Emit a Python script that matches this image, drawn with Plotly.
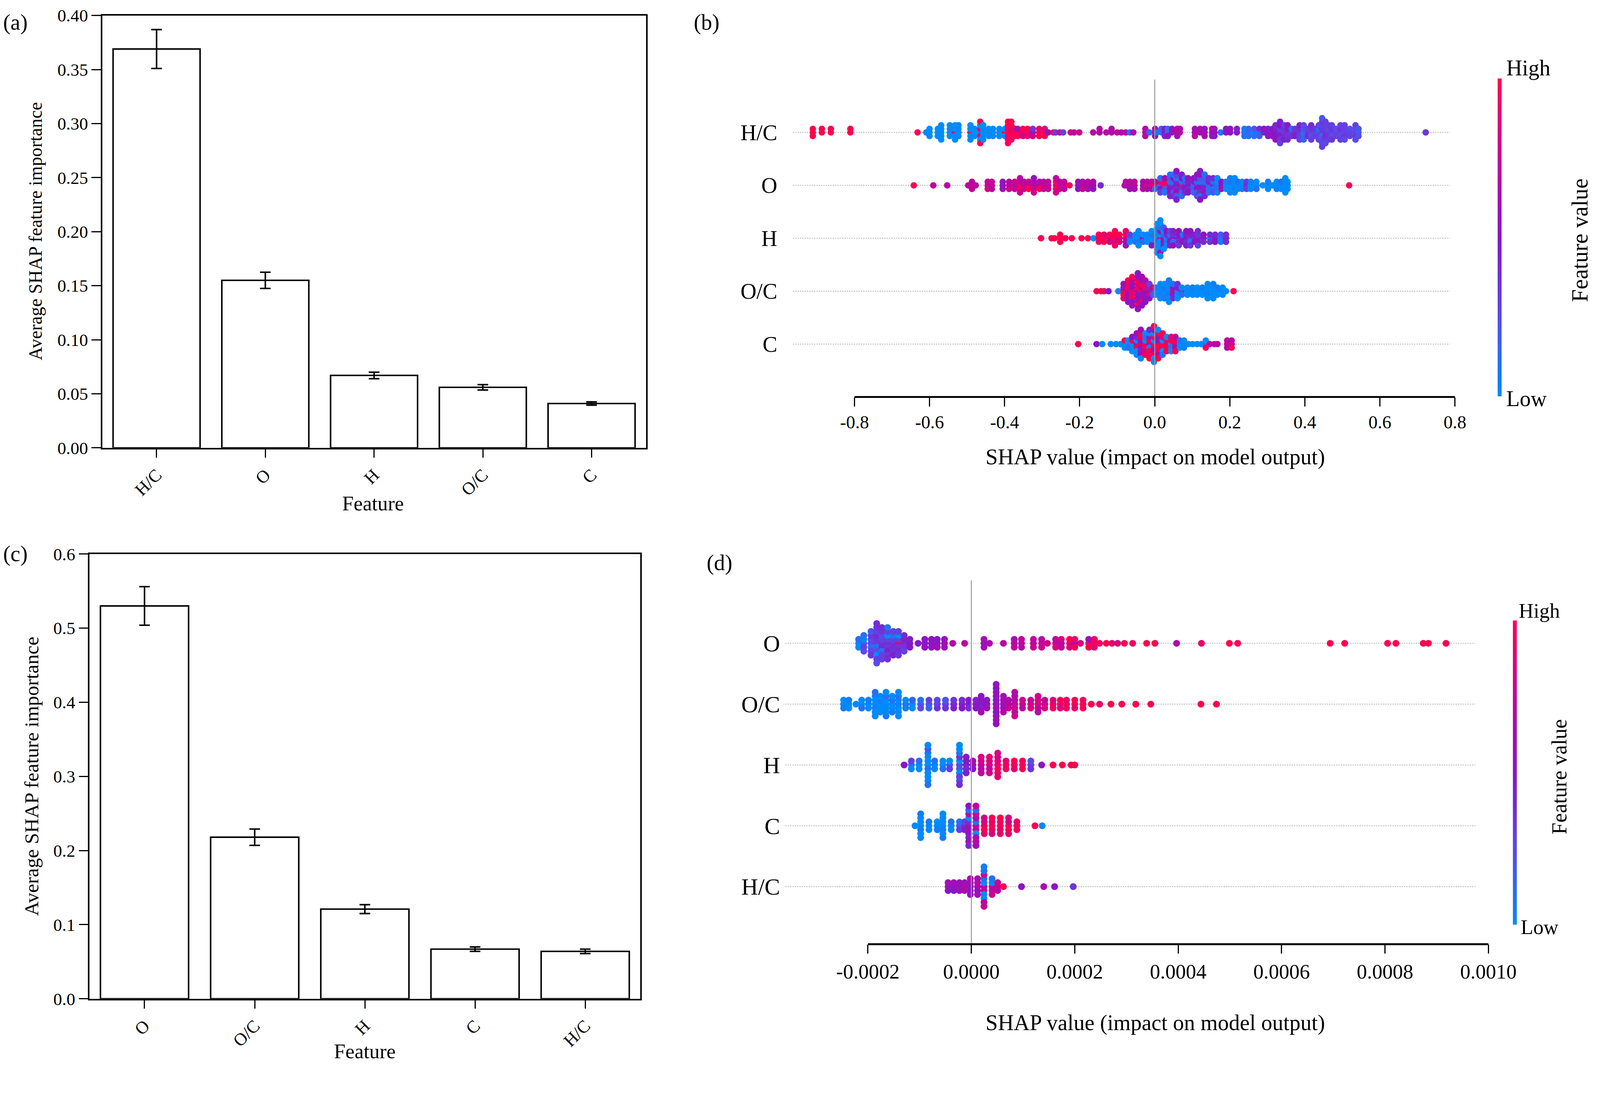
import math
import plotly.graph_objects as go

# reference canvas in pixels. In the photographed page one CSS px comes out as about
# 1.026 px across and 1.018 px down, and the page starts about 24 px below the top,
# so everything is laid out in reference pixels and converted here
# (body margin is removed after plotting).
W, H = 4252, 2817
KX, KY = 1.026, 1.018
K = KX
BAND = 23.7
FW = round(W / KX)
FH = round((H - BAND) / KY)
FONT = "Liberation Serif"


def px(X):
    return (X / KX) / FW


def py(Y):
    return 1 - ((Y - BAND) / KY) / FH


def s(v):
    # size in reference pixels -> css pixels
    return v / K


# ---- panel (a) / (c): mean |SHAP| bars ----
a_feats = ["H/C", "O", "H", "O/C", "C"]
a_vals = [0.369, 0.155, 0.067, 0.056, 0.041]
a_err = [0.018, 0.0075, 0.003, 0.0025, 0.0015]

c_feats = ["O", "O/C", "H", "C", "H/C"]
c_vals = [0.530, 0.218, 0.121, 0.067, 0.064]
c_err = [0.026, 0.011, 0.006, 0.003, 0.003]

# ---- panel (b) / (d): beeswarm, each entry = (shap value, [feature values of the stacked dots]) ----
b_rows = ["H/C", "O", "H", "O/C", "C"]          # top to bottom
b_ticks = [-0.8, -0.6, -0.4, -0.2, 0.0, 0.2, 0.4, 0.6, 0.8]
b_ticktext = ["-0.8", "-0.6", "-0.4", "-0.2", "0.0", "0.2", "0.4", "0.6", "0.8"]

hc_b = [
    (-0.911, [1, 1, 1]), (-0.887, [1, 1]), (-0.863, [1, 1]), (-0.811, [1, 1]),
    (-0.632, [1]), (-0.609, [0]), (-0.600, [0, 0, 0]),
    (-0.578, [0, 0, 0]), (-0.569, [0, 0, 0, 0, 0]),
    (-0.546, [0, 0, 0, 0]), (-0.532, [.9, 0, 0, 0, 0]), (-0.523, [0, 0, 0, 0]),
    (-0.491, [1, 0, 0, 0, 0]), (-0.480, [0, 0, 0]),
    (-0.465, [0, 1, 1, 0, 0, 1, 1]), (-0.457, [0, 0, 0, 0, 0]),
    (-0.442, [0, 0, 0]), (-0.431, [0, 0, 0]), (-0.414, [0, 0, 0]), (-0.399, [1, 0, 0]),
    (-0.391, [1, 1, 1, 1, 1, 1, 1]), (-0.382, [1, .9, 1, 1, .95, 1]), (-0.373, [1, .9, 1]),
    (-0.365, [.95, .6, 1]), (-0.351, [.9, 1, .8]), (-0.339, [1, 1, .9]), (-0.325, [.5, .35, .8]),
    (-0.308, [1, .9, 1]), (-0.293, [1, .85, 1]), (-0.284, [.55]), (-0.270, [1]), (-0.264, [.3]),
    (-0.253, [.8]), (-0.244, [.3]), (-0.224, [.8]), (-0.215, [.75]), (-0.201, [.8]),
    (-0.164, [.7]), (-0.147, [.65, .7]), (-0.129, [.7]), (-0.115, [.7, .65]), (-0.100, [.75]),
    (-0.089, [.7]), (-0.077, [.7]), (-0.066, [.1]), (-0.057, [.7]),
    (-0.025, [.75, .7, .7]), (-0.014, [.1]), (0.001, [.75, .7, .5]), (0.006, [.1]),
    (0.018, [.1, .15]), (0.027, [.5, .55, .45]), (0.035, [.1, .1, .5]), (0.046, [.55, .5]),
    (0.060, [.7, .75, .6]), (0.067, [.7, .65]),
    (0.107, [.65, .6, .7]), (0.121, [.6, .65]), (0.133, [.6, .55, .65]), (0.153, [.65, .7, .6]),
    (0.159, [.55, .6, .5]), (0.176, [.1]), (0.190, [.55, .5]), (0.201, [.5, .55]), (0.219, [.5, .45]),
    (0.239, [.1, .05, .1]), (0.250, [.1, .15, .1]), (0.265, [.05, .2, .1]), (0.279, [.1, .4, .15]),
    (0.291, [.45, .5]), (0.302, [.5, .45, .5]), (0.314, [.45, .5, .55]), (0.322, [.5, .45, .5, .4, .55]),
    (0.334, [.4, .3, .45, .5, .35, .45, .3]), (0.345, [.3, .35, .4, .3, .45]),
    (0.354, [.4, .45, .35, .5, .4]), (0.365, [.3, .1, .35]), (0.374, [.4, .35, .45]),
    (0.386, [.35, .4, .3, .45, .3]), (0.397, [.1, .2, .1, .25, .15]), (0.408, [.35, .3, .4]),
    (0.417, [.3, .35, .25, .4, .3]), (0.429, [.3, .35, .3]), (0.437, [.2, .1, .3, .25, .3]),
    (0.446, [.3, .35, .1, .3, .25, .35, .3, .2, .3]), (0.455, [.35, .3, .4, .3, .35, .3, .25]),
    (0.463, [.3, .25, .35, .3, .3]), (0.472, [.3, .35, .25, .3, .35]), (0.483, [.3, .25, .3]),
    (0.495, [.3, .35, .25, .3, .3]), (0.506, [.25, .3, .35, .3, .25]), (0.520, [.3, .25, .3]),
    (0.535, [.3, .25, .35, .3, .25]), (0.543, [.15, .2, .25]),
    (0.722, [.35]),
]

o_b = [
    (-0.642, [1]), (-0.590, [.75]), (-0.553, [.7]), (-0.497, [.75]), (-0.487, [.8, .7, .75]),
    (-0.477, [.7]), (-0.445, [.8, .75, .85]), (-0.434, [.75, .8, .7]),
    (-0.405, [.6, .55, .55]), (-0.388, [.75, .7, .8]), (-0.373, [.7, .8, .75]),
    (-0.359, [.9, .75, 1, .7, .8]), (-0.348, [.75, .7, .8]), (-0.336, [.8, .75, 1]),
    (-0.322, [.6, .7, .75, .55, .8]), (-0.307, [.75, .7, 1]), (-0.296, [.8, .7, .75]),
    (-0.284, [.7, .75, .8]), (-0.263, [.85, 1, 1, .75, .8]), (-0.253, [.75, .7, .8]),
    (-0.241, [.8, .75, .7]), (-0.227, [1]), (-0.204, [.55, .6, .5]), (-0.192, [.7, .65, .75]),
    (-0.178, [.7, .75, .65]), (-0.164, [.6, .65, .55]), (-0.144, [.4]),
    (-0.080, [.6]), (-0.077, [.7, .75]), (-0.066, [.65, .7, .6]), (-0.054, [.7, .75, .65]),
    (-0.031, [.65, .6, .7]), (-0.020, [1, .7, .6]), (-0.008, [1, .75, .65]),
    (0.001, [1, .7, .1]), (0.015, [.1, .9, .5, .1, .3]), (0.027, [1, .95, .2, .6, .1]),
    (0.041, [.4, .1, .5, .2, .6, .1, .45]), (0.050, [.3, .1, .45, .5, .2, .1, .4]),
    (0.058, [.5, .45, .4, .1, .55, .3, .2, .5, .45]), (0.072, [1, .1, .4, .5, .2, .45, .1]),
    (0.081, [.45, .2, .5, .1, .4]), (0.089, [.5, .45, .4, .55, .5]), (0.104, [.1, .45, .2, .5, .1]),
    (0.113, [.4, .1, .5, .45, .2, .55, .3]), (0.121, [.45, .1, .5, .2, .4, .55, .1, .45, .5]),
    (0.133, [.4, .1, .45, .2, .5, .1, .4]), (0.144, [.2, .45, .1, .4, .1]),
    (0.156, [.45, .1, .1, .4, .2]), (0.167, [.1, 0, .1, 0, .05]), (0.178, [.5, .55, .6]),
    (0.190, [0, .05, 0]), (0.201, [0, .1, 0, .05, 0]), (0.213, [0, 0, .05, 0, 0]),
    (0.222, [0, .1, 0]), (0.233, [0, 0, .05]), (0.245, [.4, .35, .3]), (0.256, [0, .05, 0]),
    (0.271, [0, 0, .1]), (0.288, [0]), (0.302, [0, .05, 0]), (0.314, [0]), (0.325, [0, 0, .05]),
    (0.337, [0, .1, 0]), (0.348, [0, 0, .05, 0, 0]), (0.354, [0, 0, 0]),
    (0.518, [1]),
]

h_b = [
    (-0.303, [1]), (-0.275, [1]), (-0.267, [1]), (-0.252, [1, 1, 1]), (-0.238, [1]),
    (-0.221, [1]), (-0.195, [1]), (-0.178, [1]), (-0.163, [0]),
    (-0.149, [1, 1, .95]), (-0.135, [1, .9, 1]), (-0.120, [.85, 1, .8]),
    (-0.106, [1, 1, .9, 1, .95]), (-0.094, [.8, 1, .85]), (-0.077, [.7, 1, .6, .9, .55]),
    (-0.066, [.1, .3, 0]), (-0.051, [0, 0, .1]), (-0.043, [0, 0, .05, 0, 0]),
    (-0.031, [.5, 0, .1]), (-0.020, [0, 0, 0]), (-0.008, [0, .1, 0, 0, .5]),
    (0.006, [0, 0, .1, 0, 0, .05, 0, 0, 0]), (0.015, [.9, 0, 0, .55, 0, .1, 0, 0, .6, 0, 0]),
    (0.024, [.5, .1, .6, 0, .45, .2, 0]), (0.032, [0, .4, .1, .5, 0]), (0.041, [.4, .1, .5, .3, .45]),
    (0.049, [.5, .4, .1, .45, .55]), (0.064, [.45, .5, .4, .55, .35]), (0.075, [.4, .1, .5]),
    (0.084, [.5, .45, .4, .55, .45]), (0.095, [.3, .45, .1, .5, .35]), (0.107, [.4, .45, .5]),
    (0.115, [.45, .35, .5, .4, .3]), (0.130, [.45, .5, .4]), (0.147, [.1, .4, .35]),
    (0.161, [.45, .4, .5]), (0.176, [.1, .2, .05]), (0.190, [.45, .4, .4]),
]

oc_b = [
    (-0.155, [1]), (-0.143, [1]), (-0.135, [.95]), (-0.123, [.5]), (-0.097, [0]),
    (-0.083, [1, .6, 1, .55, .9]), (-0.071, [.7, 1, .55, .9, .6, 1, .5]),
    (-0.060, [1, .6, .9, .55, 1, .7, .5, 1, .6]),
    (-0.045, [.55, 1, .6, .9, .5, 1, .65, .55, .9, .5, .55]),
    (-0.034, [1, .6, .55, 1, .7, .5, .9, .6, .55]), (-0.025, [.6, 1, .5, .9, .55, .7, .5]),
    (-0.014, [.6, .4, .9, .3, .55]), (-0.005, [.4, .8, .2]),
    (0.003, [0, .1, 0]), (0.015, [0, 0, .05, 0, 0]), (0.026, [0, .1, 0, 0, .05]),
    (0.038, [0, 0, .1, 0, 0, .05, 0]), (0.049, [.85, .5, .45, .1, .4]), (0.061, [.1, .45, 0, .4, 0]),
    (0.072, [.35, 0, .1]), (0.087, [0, 0, 0]), (0.101, [0, .05, 0]), (0.113, [0, 0, 0]),
    (0.127, [0, .05, 0]), (0.141, [0, 0, .05, 0, 0]), (0.156, [0, 0, 0, .05, 0]),
    (0.167, [0, .05, 0]), (0.181, [0, 0, 0]), (0.190, [0]),
    (0.210, [1]),
]

c_b = [
    (-0.204, [1]), (-0.155, [.5]), (-0.140, [0]), (-0.117, [0]), (-0.103, [0]), (-0.091, [0]),
    (-0.080, [0, 1, 0]), (-0.071, [0, 0, .1]),
    (-0.060, [0, 1, 0, .5, 0]), (-0.048, [.5, 0, 1, .4, 0, .6, 0]),
    (-0.037, [1, .5, .6, 1, .45, 1, .5, .6, 0]), (-0.025, [1, 0, 1, .1, .9, 0, 1]),
    (-0.014, [.5, 1, 0, .6, 1, 0, .9, .45, 1]), (-0.002, [1, 0, .9, 1, .5, 0, 1, .6, 0, 1, 0]),
    (0.009, [1, .6, 1, .5, .9, 1, .6, 0, 1]), (0.021, [1, 0, 1, .9, 0, 1, .1]),
    (0.032, [1, .9, 1, 0, 1]), (0.044, [0, 1, .1, .9, 0]), (0.055, [.8, 1, .7, .75, 1]),
    (0.067, [0, .1, 0]), (0.078, [0, 0, .05]), (0.090, [0]), (0.101, [0]), (0.113, [0]), (0.124, [0]),
    (0.136, [.1, 0, 1]), (0.147, [.75]), (0.159, [.7]), (0.167, [.7]),
    (0.193, [.7, .75, .65]), (0.205, [.8, .7, 1]),
]

# ---- panel (d) ----
d_rows = ["O", "O/C", "H", "C", "H/C"]         # top to bottom
d_ticks = [-0.0002, 0.0, 0.0002, 0.0004, 0.0006, 0.0008, 0.0010]
d_ticktext = ["-0.0002", "0.0000", "0.0002", "0.0004", "0.0006", "0.0008", "0.0010"]

o_d = [
    (-2.18e-4, [0, .1, 0]), (-2.08e-4, [.2, 0, .3, .1, .25]),
    (-1.94e-4, [.3, .25, .1, .35, .3, .2, .35]),
    (-1.83e-4, [.3, .35, .1, .4, .25, .3, 0, .35, .3, .4, .25]),
    (-1.73e-4, [.35, .3, .4, .25, .1, .35, .3, .4, .3]),
    (-1.62e-4, [.4, .3, .35, 0, .45, .3, .35, .1, .4]),
    (-1.51e-4, [.35, .3, .4, .1, .35, .3, .45]), (-1.41e-4, [.9, .3, .35, 0, .4, .3, .35]),
    (-1.30e-4, [.4, .45, .35, .4, .3]), (-1.19e-4, [.5, .45, .5]),
    (-1.03e-4, [.5]), (-0.90e-4, [.45, .5, .55]), (-0.77e-4, [.5, .55, .5]),
    (-0.66e-4, [.55, .5, .6]), (-0.52e-4, [.6, .55, .6]), (-0.36e-4, [.7]), (-0.13e-4, [.7]),
    (0.245e-4, [.55, .6, .6]), (0.35e-4, [.65]), (0.62e-4, [.7]), (0.83e-4, [.7, .65, .75]),
    (0.97e-4, [.7, .75, .7]), (1.20e-4, [.7, .75, .8]), (1.36e-4, [.75, .7, .8]), (1.47e-4, [.8]),
    (1.63e-4, [.8, .7, .85]), (1.74e-4, [.6, .85, .75]), (1.90e-4, [.9, 1, .85]),
    (2.00e-4, [.55, .9, 1]), (2.11e-4, [.85]), (2.27e-4, [.9, .6, 1]), (2.38e-4, [1, .95, .9]),
    (2.48e-4, [.95]), (2.61e-4, [1]), (2.72e-4, [.9]), (2.83e-4, [.85]), (2.96e-4, [1]),
    (3.12e-4, [.95]), (3.39e-4, [1]), (3.55e-4, [1]), (3.97e-4, [.65]), (4.45e-4, [.9]),
    (4.99e-4, [1]), (5.15e-4, [1]), (6.94e-4, [1]), (7.22e-4, [1]), (8.05e-4, [1]),
    (8.21e-4, [1]), (8.74e-4, [1]), (8.84e-4, [1]), (9.18e-4, [1]),
]

oc_d = [
    (-2.47e-4, [0, 0, .05]), (-2.37e-4, [0, .05, 0]), (-2.23e-4, [0]), (-2.12e-4, [0, 0, .1]),
    (-1.99e-4, [0, .05, 0]), (-1.86e-4, [0, 0, .05, 0, 0, .1, 0]), (-1.76e-4, [0, .05, 0, 0, 0]),
    (-1.65e-4, [0, 0, 0, .1, 0, 0, .05]), (-1.53e-4, [0, .1, 0, 0, .05]),
    (-1.41e-4, [.05, 0, 0, .1, 0, 0, 0]), (-1.27e-4, [.1, 0, .05]), (-1.14e-4, [0, .15, 0]),
    (-0.98e-4, [.2, .1, .25]), (-0.82e-4, [.2, .3, .15]), (-0.66e-4, [.3, .25, .35]),
    (-0.50e-4, [.3, .2, .35]), (-0.34e-4, [.4, .35, .45]), (-0.18e-4, [.45, .4, .5]),
    (-0.05e-4, [.45, .5, .4]), (0.09e-4, [.5, .45, .55]), (0.19e-4, [.5, .55, .45, .5, .6]),
    (0.30e-4, [.55, .5, .6]), (0.48e-4, [.55, .5, .6, .55, .5, .6, .55, .5, .6, .55, .55]),
    (0.62e-4, [.6, .65, .55, .6, .7]), (0.72e-4, [.7, .65, .75]),
    (0.84e-4, [.75, .7, .8, .65, .75, .7, .8]), (0.99e-4, [.75, .8, .7]), (1.15e-4, [.8, .75, .85]),
    (1.29e-4, [.8, .85, .75, .8, .7]), (1.42e-4, [.8, .75, .85]), (1.58e-4, [.9, .85, .95]),
    (1.72e-4, [.9, 1, .85]), (1.84e-4, [1, .9, .95]), (2.00e-4, [.95, 1, .9]), (2.16e-4, [1, .95, 1]),
    (2.32e-4, [1]), (2.48e-4, [.95]), (2.70e-4, [1]), (2.91e-4, [1]), (3.18e-4, [1]), (3.47e-4, [1]),
    (4.44e-4, [1]), (4.74e-4, [1]),
]

h_d = [
    (-1.30e-4, [.5]), (-1.16e-4, [.1, .3, 0]), (-1.01e-4, [0, .1, 0]),
    (-0.84e-4, [0, 0, .1, 0, 0, .05, 0, .2, 0, 0, .1]), (-0.71e-4, [0, .1, 0]),
    (-0.55e-4, [0, 0, .1]), (-0.42e-4, [.2, 0, .3]),
    (-0.23e-4, [.3, 0, .2, .35, 0, .1, .3, 0, .25, 0, .4]), (-0.10e-4, [.45, .5, .4, .5, .45]),
    (0.03e-4, [.55, .6, .5]), (0.19e-4, [.75, .8, .7, .85, .75]), (0.35e-4, [.8, .85, .75, .9, .8]),
    (0.51e-4, [.9, .85, 1, .8, .95, .85, .9]), (0.67e-4, [1, .9, .95]), (0.83e-4, [.95, 1, .9]),
    (0.99e-4, [1, .95, 1]), (1.15e-4, [.3, .25, .35]), (1.36e-4, [.5]), (1.58e-4, [1]),
    (1.76e-4, [1]), (1.93e-4, [1]), (2.00e-4, [1]),
]

c_d = [
    (-1.09e-4, [0]), (-0.98e-4, [0, 0, .05, 0, 0, .05, 0]), (-0.82e-4, [0, .05, 0]),
    (-0.66e-4, [0, 0, .05]), (-0.55e-4, [0, 0, .05, 0, 0, 0, .05]), (-0.39e-4, [0, .1, 0]),
    (-0.23e-4, [.2, .1, .3]), (-0.13e-4, [.4, .3, .45]),
    (-0.05e-4, [.55, .4, .6, 0, .5, .7, .45, .1, .6, .5, .4]),
    (0.09e-4, [.7, .1, .75, .6, 0, .8, .65, .1, .7, .75, .6]),
    (0.25e-4, [.9, .85, 1, .8, .9]), (0.40e-4, [1, .9, .95, 1, .85]), (0.56e-4, [1, .95, .9, 1, .9]),
    (0.72e-4, [.95, .8, 1, .85, .9]), (0.88e-4, [1, .9, .95]), (1.23e-4, [1]), (1.37e-4, [0]),
]

hc_d = [
    (-0.45e-4, [.55, .6, .5]), (-0.34e-4, [.55, .6, .5]), (-0.23e-4, [.6, .55, .6]),
    (-0.13e-4, [.7, .6, .65]), (-0.02e-4, [.55, .6, .5, .65, .55]), (0.12e-4, [.6, .7, .55, .65, .6]),
    (0.245e-4, [.7, 0, .75, .1, 0, .8, 0, .1, .7, .05, .75]), (0.40e-4, [.75, 0, .7, .1, .8]),
    (0.51e-4, [.75, .8, .7]), (0.62e-4, [1]), (0.97e-4, [.5]), (1.40e-4, [.65]), (1.61e-4, [.5]),
    (1.97e-4, [.35]),
]

RED_BLUE = [[0.0, "#008bfb"], [0.25, "#5a4ae9"], [0.5, "#8a16c6"], [0.75, "#c2069a"], [1.0, "#ff0051"]]


def swarm(stacks, row, step):
    # stack dots of the same value: centre, above, below, above, ...
    xs, ys, cs = [], [], []
    for x, feats in stacks:
        for k, c in enumerate(feats):
            off = math.ceil(k / 2) * (1 if k % 2 else -1)
            xs.append(x)
            ys.append(row + off * step)
            cs.append(c)
    return xs, ys, cs


def ann(text, X, Y, size, xanchor="center", yanchor="middle", angle=0):
    return dict(text=text, x=px(X), y=py(Y), xref="paper", yref="paper",
                showarrow=False, xanchor=xanchor, yanchor=yanchor, textangle=angle,
                font=dict(family=FONT, size=s(size), color="black"))


fig = go.Figure()

# bars
for feats, vals, err, xa, ya in [(a_feats, a_vals, a_err, "x", "y"),
                                 (c_feats, c_vals, c_err, "x3", "y3")]:
    fig.add_trace(go.Bar(
        x=feats, y=vals, width=0.8, xaxis=xa, yaxis=ya,
        marker=dict(color="white", line=dict(color="black", width=s(4))),
        error_y=dict(type="data", array=err, color="black", thickness=s(4), width=s(14))))

# beeswarms
panels = [
    ([hc_b, o_b, h_b, oc_b, c_b], "x2", "y2", 9.5 / 140.5, 17,
     dict(x=px(3986), y=py(629), len=844 / KY / FH)),
    ([o_d, oc_d, h_d, c_d, hc_d], "x4", "y4", 10.5 / 161.5, 18,
     dict(x=px(4026), y=py(2050), len=808 / KY / FH)),
]
for rows, xa, ya, step, size, cb in panels:
    n = len(rows)
    for i, stacks in enumerate(rows):
        xs, ys, cs = swarm(stacks, n - 1 - i, step)
        fig.add_trace(go.Scatter(
            x=xs, y=ys, mode="markers", xaxis=xa, yaxis=ya, hoverinfo="skip",
            marker=dict(color=cs, colorscale=RED_BLUE, cmin=0, cmax=1, size=s(size),
                        line=dict(width=0), showscale=(i == 0),
                        colorbar=dict(xanchor="left", yanchor="middle", lenmode="fraction",
                                      thickness=s(10), outlinewidth=0, showticklabels=False,
                                      ticks="", xpad=0, ypad=0, **cb))))

bar_x = dict(type="category", ticks="outside", ticklen=s(22), tickwidth=s(3), tickcolor="black",
             tickangle=-45, showline=True, mirror=True, linecolor="black", linewidth=s(4),
             showgrid=False, tickfont=dict(family=FONT, size=s(46), color="black"))
bar_y = dict(ticks="outside", ticklen=s(24), tickwidth=s(3), tickcolor="black", showline=True,
             mirror=True, linecolor="black", linewidth=s(4), showgrid=False, zeroline=False,
             tickfont=dict(family=FONT, size=s(46), color="black"))
swarm_x = dict(ticks="outside", ticklen=s(24), tickwidth=s(3), tickcolor="black", showline=False,
               showgrid=False, zeroline=False)
swarm_y = dict(ticks="", showline=False, showgrid=False, zeroline=False)

fig.update_layout(
    width=FW, height=FH, autosize=False, showlegend=False,
    margin=dict(l=0, r=0, t=0, b=0),
    paper_bgcolor="white", plot_bgcolor="rgba(0,0,0,0)",
    font=dict(family=FONT, color="black"),
    bargap=0.2,
    # top of (a) kept a little lower so its top tick label stays inside the page
    xaxis=dict(bar_x, domain=[px(272), px(1719)], anchor="y"),
    yaxis=dict(bar_y, domain=[py(1188), py(40)], anchor="x", range=[0, 0.40],
               tickvals=[0, 0.05, 0.10, 0.15, 0.20, 0.25, 0.30, 0.35, 0.40], tickformat=".2f"),
    xaxis3=dict(bar_x, domain=[px(238), px(1704)], anchor="y3"),
    yaxis3=dict(bar_y, domain=[py(2651), py(1470)], anchor="x3", range=[0, 0.6],
                tickvals=[0, 0.1, 0.2, 0.3, 0.4, 0.5, 0.6], tickformat=".1f"),
    xaxis2=dict(swarm_x, domain=[px(2080), px(3900)], anchor="y2",
                range=[-0.99424, 0.82804], tickvals=b_ticks, ticktext=b_ticktext,
                tickfont=dict(family=FONT, size=s(48), color="black")),
    yaxis2=dict(swarm_y, domain=[py(1053), py(210)], anchor="x2", range=[-1, 5],
                tickvals=[0, 1, 2, 3, 4], ticktext=b_rows[::-1], ticklabelstandoff=10,
                tickfont=dict(family=FONT, size=s(58), color="black")),
    xaxis4=dict(swarm_x, domain=[px(2080), px(3980)], anchor="y4",
                range=[-3.670e-4, 10.138e-4], tickvals=d_ticks, ticktext=d_ticktext,
                tickfont=dict(family=FONT, size=s(54), color="black")),
    yaxis4=dict(swarm_y, domain=[py(2506), py(1540)], anchor="x4", range=[-0.947, 5.034],
                tickvals=[0, 1, 2, 3, 4], ticktext=d_rows[::-1], ticklabelstandoff=3,
                tickfont=dict(family=FONT, size=s(61), color="black")),
)

shapes = []
for xa, ya, x0, x1, lo, hi in [("x2", "y2", -0.964, 0.786, -0.8, 0.8),
                               ("x4", "y4", -3.597e-4, 9.746e-4, -0.0002, 0.0010)]:
    for r in range(5):
        shapes.append(dict(type="line", xref=xa, yref=ya, x0=x0, x1=x1, y0=r, y1=r, layer="below",
                           line=dict(color="#c4c4c4", width=s(3), dash="dot")))
    shapes.append(dict(type="line", xref=xa, yref=ya + " domain", x0=0, x1=0, y0=0, y1=1,
                       line=dict(color="#9a9a9a", width=s(2.5))))
    shapes.append(dict(type="line", xref=xa, yref=ya + " domain", x0=lo, x1=hi, y0=0, y1=0,
                       line=dict(color="black", width=s(5))))
fig.update_layout(shapes=shapes)

fig.update_layout(annotations=[
    ann("(a)", 6, BAND, 58, xanchor="left", yanchor="top"),
    ann("(b)", 1844, BAND, 58, xanchor="left", yanchor="top"),
    ann("(c)", 6, 1470, 58, xanchor="left"),
    ann("(d)", 1878, 1493, 58, xanchor="left"),
    ann("Average SHAP feature importance", 94, 612, 49, angle=-90),
    ann("Feature", 993, 1335, 54),
    ann("Average SHAP feature importance", 84, 2060, 53, angle=-90),
    ann("Feature", 971, 2790, 54),
    ann("SHAP value (impact on model output)", 3074, 1213, 58),
    ann("SHAP value (impact on model output)", 3074, 2715, 58),
    ann("High", 4006, 179, 58, xanchor="left"),
    ann("Low", 4006, 1058, 58, xanchor="left"),
    ann("Feature value", 4204, 637, 60, angle=-90),
    ann("High", 4040, 1621, 54, xanchor="left"),
    ann("Low", 4045, 2460, 54, xanchor="left"),
    ann("Feature value", 4150, 2061, 56, angle=-90),
])

fig.write_html("out.html", config={"displayModeBar": False},
               post_script="document.body.style.margin = '0px';")
